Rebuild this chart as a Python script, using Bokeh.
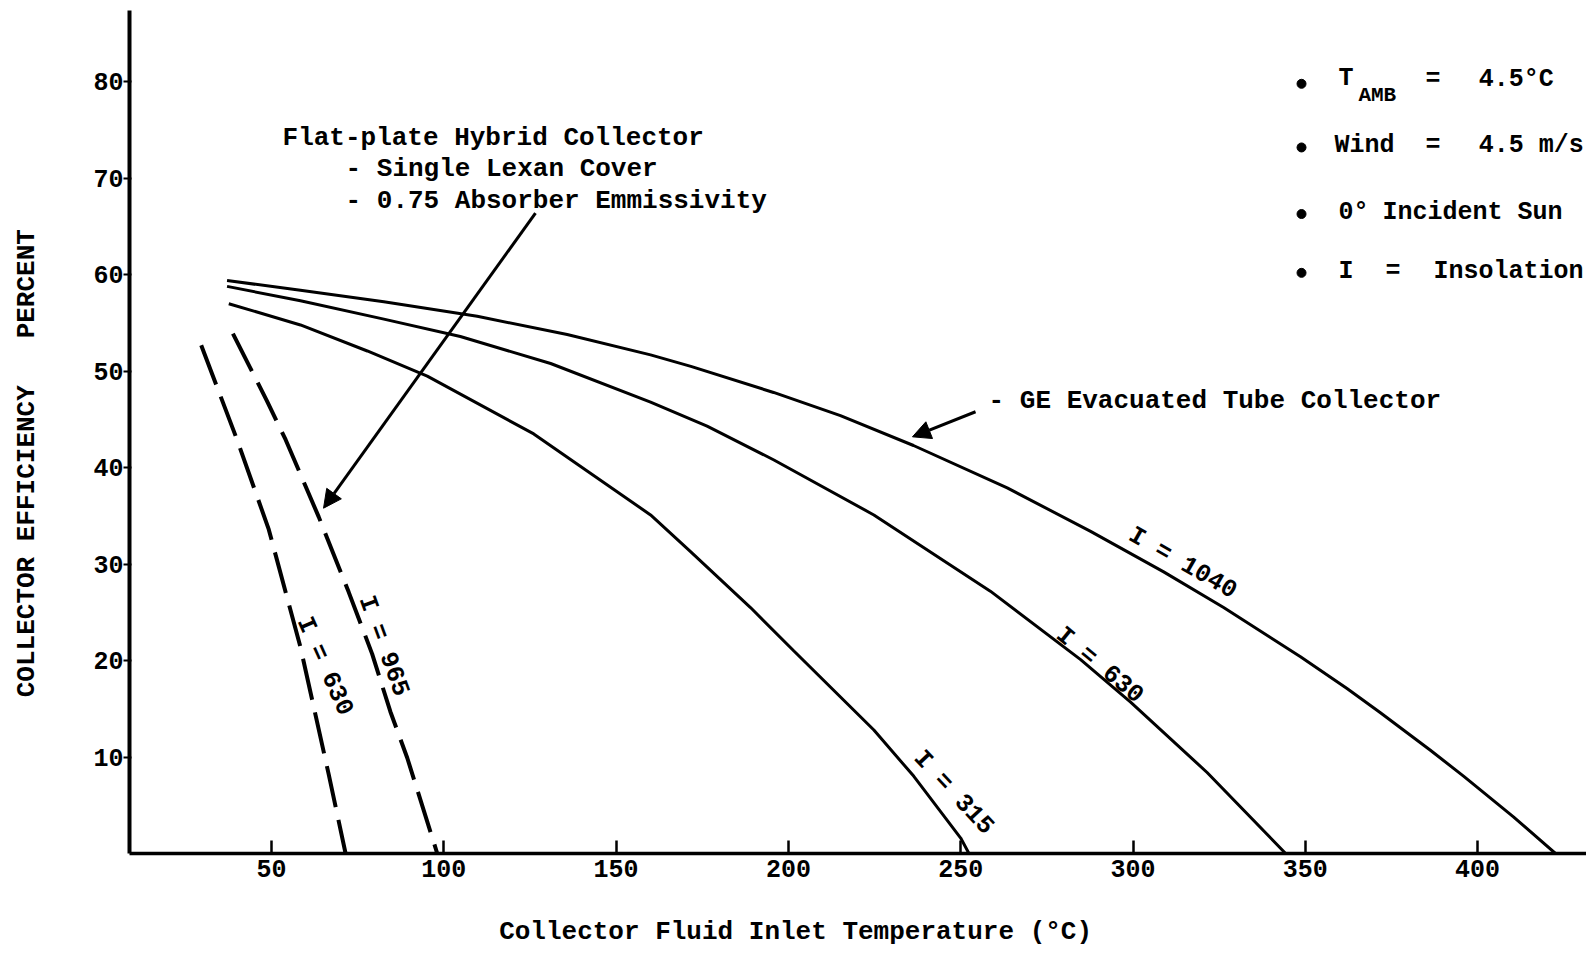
from bokeh.plotting import figure
from bokeh.models import FixedTicker, Arrow, NormalHead, Range1d
from bokeh.core.properties import value
from bokeh.embed import file_html
from bokeh.resources import INLINE

# ---------------- data ----------------
# GE evacuated tube collector, I = 1040
temp_1040 = [37.1, 58.4, 82.6, 109.7, 135.8, 160.0, 171.7, 195.7, 215.1, 236.3, 263.5,
             287.7, 308.9, 326.3, 348.6, 362.1, 371.8, 386.3, 396.0, 410.4, 422.6]
eff_1040 = [59.4, 58.4, 57.2, 55.7, 53.8, 51.7, 50.5, 47.8, 45.4, 42.3, 37.9,
            33.4, 29.2, 25.5, 20.4, 17.1, 14.6, 10.7, 8.0, 3.8, 0.0]
# GE evacuated tube collector, I = 630
temp_630 = [37.1, 58.4, 82.6, 104.8, 131.0, 160.0, 176.4, 195.8, 224.8, 258.6,
            284.8, 299.3, 321.5, 344.3]
eff_630 = [58.8, 57.3, 55.4, 53.6, 50.8, 46.8, 44.3, 40.8, 35.1, 27.2,
           20.1, 15.7, 8.4, 0.0]
# GE evacuated tube collector, I = 315
temp_315 = [37.6, 58.4, 77.8, 95.2, 126.1, 160.0, 171.6, 189.0, 201.6, 224.8,
            236.4, 250.0, 252.4]
eff_315 = [57.0, 54.8, 52.1, 49.5, 43.5, 35.1, 31.3, 25.5, 21.0, 12.8,
           8.0, 1.6, 0.0]
# Flat-plate hybrid collector, I = 630 (dashed)
temp_fp630 = [29.6, 40.0, 49.2, 58.4, 66.6, 71.5]
eff_fp630 = [52.7, 42.9, 33.6, 21.4, 8.2, 0.0]
# Flat-plate hybrid collector, I = 965 (dashed)
temp_fp965 = [38.8, 48.7, 54.1, 63.7, 72.4, 79.2, 84.5, 89.4, 98.1]
eff_fp965 = [53.9, 46.9, 42.9, 34.9, 27.1, 20.7, 14.7, 9.9, 0.0]

x_ticks = [50, 100, 150, 200, 250, 300, 350, 400]
y_ticks = [10, 20, 30, 40, 50, 60, 70, 80]

NB = "\u00a0"
x_title = "Collector Fluid Inlet Temperature (\u00b0C)"
y_title = "COLLECTOR EFFICIENCY" + NB * 3 + "PERCENT"
fp_lines = ["Flat-plate Hybrid Collector",
            "- Single Lexan Cover",
            "- 0.75 Absorber Emmissivity"]
ge_text = "- GE Evacuated Tube Collector"
curve_labels = ["I = 1040", "I = 630", "I = 315", "I = 630", "I = 965"]
cond_texts = ["T", "=", "4.5\u00b0C", "Wind", "=", "4.5 m/s", "0\u00b0",
              "Incident Sun", "I", "=", "Insolation"]

FONT = "Liberation Mono"
INK = "#000000"

p = figure(width=1586, height=950, output_backend="svg", toolbar_location=None,
           x_range=Range1d(8.79, 431.6), y_range=Range1d(0, 87.4),
           min_border_left=129, min_border_right=0, min_border_top=10,
           min_border_bottom=97)
p.outline_line_color = None
p.grid.visible = False
p.background_fill_color = "white"
p.border_fill_color = "white"

# axes
p.xaxis.ticker = FixedTicker(ticks=x_ticks)
p.yaxis.ticker = FixedTicker(ticks=y_ticks)
for ax in (p.xaxis, p.yaxis):
    ax.axis_line_color = INK
    ax.major_tick_line_color = INK
    ax.minor_tick_line_color = None
    ax.major_label_text_font = FONT
    ax.major_label_text_font_style = "bold"
    ax.major_label_text_font_size = "25px"
    ax.major_label_text_color = INK
    ax.axis_label_text_font = FONT
    ax.axis_label_text_font_style = "bold"
    ax.axis_label_text_font_size = "26px"
    ax.axis_label_text_color = INK
p.xaxis.axis_label = x_title + NB * 8
p.yaxis.axis_label = y_title + NB * 4
p.xaxis.axis_line_width = 3.5
p.xaxis.major_tick_in = 13
p.xaxis.major_tick_out = 0
p.xaxis.major_tick_line_width = 2.5
p.xaxis.major_label_standoff = 6
p.xaxis.axis_label_standoff = 37
p.yaxis.axis_line_width = 4
p.yaxis.major_tick_in = 2
p.yaxis.major_tick_out = 6
p.yaxis.major_tick_line_width = 2
p.yaxis.major_label_standoff = 0
p.yaxis.axis_label_standoff = 48

# curves
p.line(temp_1040, eff_1040, line_width=3, line_color=INK)
p.line(temp_630, eff_630, line_width=3, line_color=INK)
p.line(temp_315, eff_315, line_width=3, line_color=INK)
p.line(temp_fp630, eff_fp630, line_width=4, line_color=INK, line_dash="42 13")
p.line(temp_fp965, eff_fp965, line_width=4, line_color=INK, line_dash="42 13")

# curve labels
p.text(x=[314.4, 290.3, 247.9, 65.4, 82.5],
       y=[30.1, 19.5, 6.3, 19.4, 21.5],
       text=curve_labels,
       angle=[-0.52, -0.69, -0.82, -1.15, -1.22],
       text_font=value(FONT), text_font_style="bold", text_font_size="25px",
       text_color=INK, text_align="center", text_baseline="middle")

# annotations
p.text(x=[53.2, 71.5, 71.5], y=[74.2, 71.0, 67.6], text=fp_lines,
       text_font=value(FONT), text_font_style="bold", text_font_size="26px",
       text_color=INK, text_align="left", text_baseline="middle")
p.text(x=[258.1], y=[46.9], text=[ge_text],
       text_font=value(FONT), text_font_style="bold", text_font_size="26px",
       text_color=INK, text_align="left", text_baseline="middle")

head1 = NormalHead(size=18, fill_color=INK, line_color=INK, line_width=1)
p.add_layout(Arrow(end=head1, x_start=126.6, y_start=66.4, x_end=65.1, y_end=35.8,
                   line_width=3, line_color=INK))
head2 = NormalHead(size=18, fill_color=INK, line_color=INK, line_width=1)
p.add_layout(Arrow(end=head2, x_start=254.3, y_start=45.8, x_end=236.0, y_end=43.2,
                   line_width=3, line_color=INK))

# conditions list (top right)
p.scatter(x=[348.9, 348.9, 348.9, 348.9], y=[79.8, 73.2, 66.3, 60.2], size=9,
          marker="circle", fill_color=INK, line_color=INK)
p.text(x=[359.6, 384.9, 400.3, 358.5, 384.9, 400.3, 359.6, 372.4, 359.6, 373.3, 387.2],
       y=[80.4, 80.2, 80.2, 73.4, 73.4, 73.4, 66.5, 66.5, 60.3, 60.3, 60.3],
       text=cond_texts,
       text_font=value(FONT), text_font_style="bold", text_font_size="25px",
       text_color=INK, text_align="left", text_baseline="middle")
p.text(x=[365.4], y=[78.6], text=["AMB"],
       text_font=value(FONT), text_font_style="bold", text_font_size="21px",
       text_color=INK, text_align="left", text_baseline="middle")

open("out.html", "w").write(file_html(p, INLINE))
